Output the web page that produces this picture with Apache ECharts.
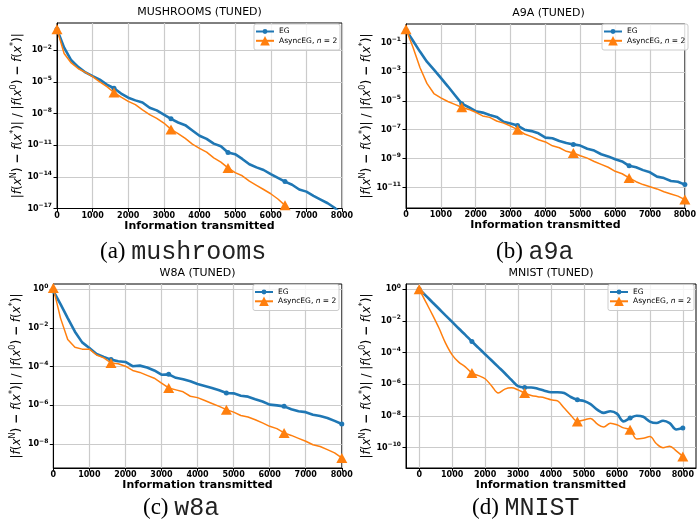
<!DOCTYPE html>
<html>
<head>
<meta charset="utf-8">
<title>EG vs AsyncEG</title>
<script src="https://cdn.jsdelivr.net/npm/echarts@6/dist/echarts.min.js"></script>
<style>
	html, body { margin: 0; padding: 0; background: #fff; }
	#charts { width: 699px; height: 525px; }
</style>
</head>
<body>
<div id="charts"></div>
<script>

	// 横轴采样点 (Information transmitted)
	var steps = [0, 200, 400, 600, 800, 1000, 1200, 1400, 1600, 1800, 2000, 2200, 2400, 2600, 2800, 3000,
		3200, 3400, 3600, 3800, 4000, 4200, 4400, 4600, 4800, 5000, 5200, 5400, 5600, 5800, 6000,
		6200, 6400, 6600, 6800, 7000, 7200, 7400, 7600, 7800, 8000];
	var xTicks = [0, 1000, 2000, 3000, 4000, 5000, 6000, 7000, 8000];

	// log10 of |f(x^N) - f(x*)| / |f(x^0) - f(x*)|
	var egMush = [0, -1.75, -2.95, -3.6, -4.1, -4.45, -4.78, -5.25, -5.6, -6.1, -6.5, -6.75, -6.95, -7.45, -7.7, -8.1,
		-8.5, -8.85, -9.1, -9.6, -10.1, -10.4, -10.85, -11.1, -11.7, -11.85, -12.3, -12.8, -13.1, -13.35, -13.75,
		-14.1, -14.45, -14.75, -15.2, -15.4, -15.8, -16.15, -16.5, -16.95, -17.6];
	var asyncMush = [0, -2.3, -3.2, -3.75, -4.1, -4.5, -5.0, -5.45, -6.0, -6.45, -6.85, -7.15, -7.65, -8.1, -8.45, -8.9,
		-9.5, -9.9, -10.35, -10.9, -11.3, -11.65, -12.2, -12.6, -13.15, -13.6, -13.9, -14.4, -14.8, -15.2, -15.6,
		-16.1, -16.7, -17.5];

	var egA9a = [-0.1, -0.85, -1.6, -2.3, -2.85, -3.42, -4.0, -4.6, -5.2, -5.45, -5.72, -5.82, -5.98, -6.12, -6.45, -6.58,
		-6.72, -7.0, -7.1, -7.25, -7.55, -7.6, -7.78, -7.92, -8.02, -8.1, -8.32, -8.45, -8.7, -8.85, -9.05,
		-9.2, -9.5, -9.6, -9.8, -9.95, -10.25, -10.35, -10.55, -10.6, -10.8];
	var asyncA9a = [-0.05, -1.3, -2.7, -3.8, -4.5, -4.8, -5.05, -5.25, -5.45, -5.6, -5.8, -6.05, -6.15, -6.4, -6.55, -6.75,
		-7.0, -7.3, -7.48, -7.7, -7.85, -8.12, -8.25, -8.5, -8.62, -8.8, -8.97, -9.2, -9.4, -9.6, -9.88,
		-10.05, -10.34, -10.6, -10.8, -10.95, -11.1, -11.3, -11.45, -11.6, -11.84];

	var egW8a = [-0.1, -0.78, -1.5, -2.2, -2.75, -3.04, -3.35, -3.5, -3.64, -3.72, -3.76, -3.98, -3.95, -4.05, -4.2, -4.42,
		-4.4, -4.58, -4.65, -4.76, -4.9, -5.0, -5.1, -5.22, -5.36, -5.38, -5.5, -5.55, -5.68, -5.8, -5.96,
		-6.0, -6.05, -6.2, -6.3, -6.35, -6.48, -6.55, -6.65, -6.8, -6.96];
	var asyncW8a = [0.05, -1.5, -2.6, -3.0, -3.1, -3.1, -3.4, -3.55, -3.81, -3.85, -3.98, -4.2, -4.3, -4.45, -4.6, -4.85,
		-5.1, -5.2, -5.3, -5.53, -5.6, -5.75, -5.9, -6.05, -6.22, -6.35, -6.52, -6.6, -6.74, -6.9, -7.08,
		-7.2, -7.42, -7.55, -7.7, -7.85, -8.03, -8.12, -8.28, -8.45, -8.71];

	var egMnist = [0, -0.4, -0.82, -1.23, -1.65, -2.06, -2.48, -2.88, -3.3, -3.7, -4.1, -4.5, -4.9, -5.3, -5.72, -6.12,
		-6.2, -6.2, -6.28, -6.4, -6.5, -6.5, -6.55, -6.8, -6.98, -7.05, -7.25, -7.6, -7.8, -7.7, -7.85,
		-8.34, -8.13, -7.98, -8.05, -8.35, -8.44, -8.3, -8.45, -8.85, -8.76];
	var asyncMnist = [0, -0.8, -1.6, -2.45, -3.4, -4.14, -4.6, -4.9, -5.29, -5.45, -5.65, -6.1, -6.55, -6.3, -6.22, -6.35,
		-6.55, -6.7, -6.78, -6.85, -6.98, -7.05, -7.5, -7.95, -8.34, -8.25, -8.15, -8.5, -8.7, -8.45, -8.55,
		-8.75, -8.87, -9.45, -9.4, -9.3, -9.75, -10.0, -9.9, -10.2, -10.55];

	// y 轴刻度 (指数)
	var yTicksMush = [-17, -14, -11, -8, -5, -2];
	var yTicksA9a = [-11, -9, -7, -5, -3, -1];
	var yTicksW8a = [-8, -6, -4, -2, 0];
	var yTicksMnist = [-10, -8, -6, -4, -2, 0];

	var EG_NAME = 'EG';
	var ASYNC_NAME = 'AsyncEG, n = 2';
	var FONT = 'DejaVu Sans';

	// 每个子图的布局
	var panels = [
		{ title: 'MUSHROOMS (TUNED)', tag: '(a) ', set: 'mushrooms', eg: egMush, async: asyncMush, yTicks: yTicksMush,
			yMin: -17, yMax: 0.585, xMin: 0, xMax: 8000, left: 57, top: 23, width: 285, height: 185.5,
			capX: 100, capY: 252, legX: 254, legY: 24, smooth: false },
		{ title: 'A9A (TUNED)', tag: '(b) ', set: 'a9a', eg: egA9a, async: asyncA9a, yTicks: yTicksA9a,
			yMin: -12.42, yMax: 0.31, xMin: 0, xMax: 8000, left: 406, top: 24, width: 285, height: 184,
			capX: 496, capY: 252, legX: 602, legY: 24, smooth: false },
		{ title: 'W8A (TUNED)', tag: '(c) ', set: 'w8a', eg: egW8a, async: asyncW8a, yTicks: yTicksW8a,
			yMin: -9.23, yMax: 0.26, xMin: 0, xMax: 8000, left: 53.3, top: 284, width: 288.5, height: 184,
			capX: 143, capY: 508, legX: 253, legY: 284.5, smooth: false },
		{ title: 'MNIST (TUNED)', tag: '(d) ', set: 'MNIST', eg: egMnist, async: asyncMnist, yTicks: yTicksMnist,
			yMin: -11.28, yMax: 0.33, xMin: -400, xMax: 8400, left: 406, top: 284, width: 290, height: 184,
			capX: 472, capY: 508, legX: 608, legY: 284.5, smooth: 0.35 }
	];

	function pow10(e) {
		return Math.pow(10, e);
	}

	// 只在 1600 的倍数处画标记
	function toData(ys) {
		return ys.map(function (v, i) {
			var item = { value: [steps[i], pow10(v)] };
			if (steps[i] % 1600 !== 0) {
				item.symbol = 'none';
			}
			return item;
		});
	}

	function expLabel(v) {
		var e = Math.round(Math.log10(v));
		return '{b|10}{s|' + (e < 0 ? '\u2212' : '') + Math.abs(e) + '}';
	}

	var yName = '|{i|f}({i|x}{s|N}) {m|\u2212} {i|f}({i|x}{s|*})| / |{i|f}({i|x}{s|0}) {m|\u2212} {i|f}({i|x}{s|*})|';

	var option = {
		animation: false,
		backgroundColor: '#fff',
		title: [], grid: [], xAxis: [], yAxis: [], series: [], legend: [], graphic: []
	};

	panels.forEach(function (p, k) {
		option.grid.push({
			left: p.left, top: p.top, width: p.width, height: p.height,
			show: true, borderColor: '#000', borderWidth: 1, backgroundColor: 'transparent'
		});

		option.title.push({
			text: p.title, left: p.left + p.width / 2, top: p.top - 16, textAlign: 'center', padding: 0,
			textStyle: { fontFamily: FONT, fontSize: 11, fontWeight: 'normal', color: '#000' }
		});

		option.xAxis.push({
			type: 'value', gridIndex: k, min: p.xMin, max: p.xMax,
			name: 'Information transmitted', nameLocation: 'middle', nameGap: 12,
			nameTextStyle: { fontFamily: FONT, fontSize: 11, fontWeight: 'bold', color: '#000' },
			axisLine: { show: true, onZero: false, lineStyle: { color: '#000', width: 1 } },
			axisTick: { show: true, customValues: xTicks, length: 3.5, lineStyle: { color: '#000' } },
			axisLabel: {
				customValues: xTicks, fontFamily: FONT, fontSize: 8, fontWeight: 'bold', color: '#000', margin: 3,
				formatter: function (v) { return String(v); }
			},
			splitLine: { show: true, lineStyle: { color: '#cbcbcb', width: 1.2 } }
		});

		var yVals = p.yTicks.map(pow10);
		option.yAxis.push({
			type: 'log', logBase: 10, gridIndex: k, min: pow10(p.yMin), max: pow10(p.yMax),
			name: yName, nameLocation: 'middle', nameRotate: 90, nameGap: 28,
			nameTextStyle: {
				fontFamily: FONT, fontSize: 12, color: '#000',
				rich: {
					i: { fontFamily: FONT, fontSize: 12, fontStyle: 'italic', color: '#000' },
					s: { fontFamily: FONT, fontSize: 8, color: '#000', padding: [0, 0, 8, 0] },
					m: { fontFamily: FONT, fontSize: 12, fontWeight: 'bold', color: '#000' }
				}
			},
			axisLine: { show: true, onZero: false, lineStyle: { color: '#000', width: 1 } },
			axisTick: { show: true, customValues: yVals, length: 3.5, lineStyle: { color: '#000' } },
			axisLabel: {
				customValues: yVals, margin: 5, formatter: expLabel,
				rich: {
					b: { fontFamily: FONT, fontSize: 8, fontWeight: 'bold', color: '#000' },
					s: { fontFamily: FONT, fontSize: 6, fontWeight: 'bold', color: '#000', padding: [0, 0, 6, 0] }
				}
			},
			splitLine: { show: true, lineStyle: { color: '#cbcbcb', width: 1.2 } }
		});

		option.series.push({
			name: EG_NAME, type: 'line', xAxisIndex: k, yAxisIndex: k,
			data: toData(p.eg), smooth: p.smooth, showSymbol: true,
			symbol: 'circle', symbolSize: 5,
			color: '#1f77b4', itemStyle: { color: '#1f77b4' },
			lineStyle: { color: '#1f77b4', width: 2.6 }
		});
		option.series.push({
			name: ASYNC_NAME, type: 'line', xAxisIndex: k, yAxisIndex: k,
			data: toData(p.async), smooth: p.smooth, showSymbol: true,
			symbol: 'triangle', symbolSize: [11, 10],
			color: '#ff7f0e', itemStyle: { color: '#ff7f0e' },
			lineStyle: { color: '#ff7f0e', width: 1.5 }
		});

		// 图例: 两个 legend 分别控制图标大小
		option.legend.push({
			data: [EG_NAME], orient: 'vertical', left: p.legX + 1, top: p.legY + 3.5, padding: 0,
			itemWidth: 18, itemHeight: 6, selectedMode: false,
			textStyle: { fontFamily: FONT, fontSize: 7.5, color: '#000' }
		});
		option.legend.push({
			data: [ASYNC_NAME], orient: 'vertical', left: p.legX + 1, top: p.legY + 12, padding: 0,
			itemWidth: 18, itemHeight: 12, selectedMode: false,
			formatter: function () { return 'AsyncEG, {i|n} = 2'; },
			textStyle: {
				fontFamily: FONT, fontSize: 7.5, color: '#000',
				rich: { i: { fontFamily: FONT, fontSize: 7.5, fontStyle: 'italic', color: '#000' } }
			}
		});
		option.graphic.push({
			type: 'rect', z: 3,
			shape: { x: p.legX, y: p.legY, width: 86, height: 26, r: 2 },
			style: { fill: 'rgba(255,255,255,0.8)', stroke: '#cccccc', lineWidth: 1 }
		});

		// 子图标题 (a) mushrooms ...
		option.graphic.push({
			type: 'text', z: 5,
			style: {
				x: p.capX, y: p.capY, align: 'left', verticalAlign: 'middle',
				text: '{s|' + p.tag + '}{m|' + p.set + '}',
				rich: {
					s: { fontFamily: 'Liberation Serif', fontSize: 23, fill: '#000' },
					m: { fontFamily: 'Liberation Mono', fontSize: 25, fill: '#222' }
				}
			}
		});
	});

	var myChart = echarts.init(document.getElementById('charts'));
	myChart.setOption(option);

</script>
</body>
</html>
